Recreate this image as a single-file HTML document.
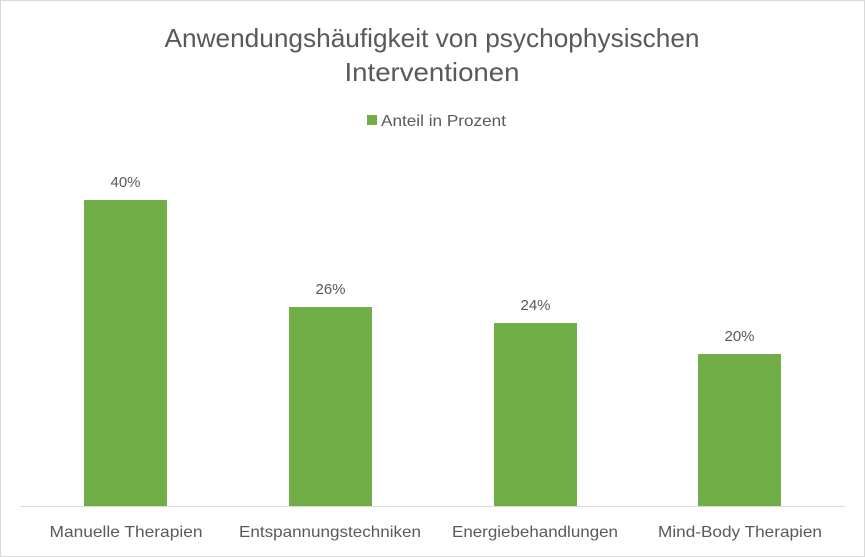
<!DOCTYPE html>
<html><head><meta charset="utf-8"><style>
html,body{margin:0;padding:0;background:#fff}
svg{display:block}
text{font-family:"Liberation Sans",sans-serif;fill:#595959}
</style></head><body>
<svg width="865" height="557" viewBox="0 0 865 557">
<rect x="0.5" y="0.5" width="864" height="556" fill="#fff" stroke="#d9d9d9"/>
<text x="432" y="47" font-size="26" text-anchor="middle" textLength="535" lengthAdjust="spacingAndGlyphs">Anwendungshäufigkeit von psychophysischen</text>
<text x="432" y="81" font-size="26" text-anchor="middle" textLength="175" lengthAdjust="spacingAndGlyphs">Interventionen</text>
<rect x="367" y="115" width="10" height="10" fill="#70ad47"/>
<text x="381" y="126" font-size="16" textLength="125" lengthAdjust="spacingAndGlyphs">Anteil in Prozent</text>
<line x1="20" y1="506.5" x2="845" y2="506.5" stroke="#d9d9d9" stroke-width="1"/>
<rect x="84" y="200" width="83" height="306" fill="#70ad47"/>
<rect x="289" y="307" width="83" height="199" fill="#70ad47"/>
<rect x="494" y="323" width="83" height="183" fill="#70ad47"/>
<rect x="698" y="354" width="83" height="152" fill="#70ad47"/>
<g font-size="15" text-anchor="middle">
<text x="125.5" y="187">40%</text>
<text x="330.5" y="294">26%</text>
<text x="535.5" y="310">24%</text>
<text x="739.5" y="341">20%</text>
</g>
<g font-size="16" text-anchor="middle">
<text x="126" y="537" textLength="153" lengthAdjust="spacingAndGlyphs">Manuelle Therapien</text>
<text x="330" y="537" textLength="182" lengthAdjust="spacingAndGlyphs">Entspannungstechniken</text>
<text x="535" y="537" textLength="166" lengthAdjust="spacingAndGlyphs">Energiebehandlungen</text>
<text x="740" y="537" textLength="164" lengthAdjust="spacingAndGlyphs">Mind-Body Therapien</text>
</g>
</svg>
</body></html>
